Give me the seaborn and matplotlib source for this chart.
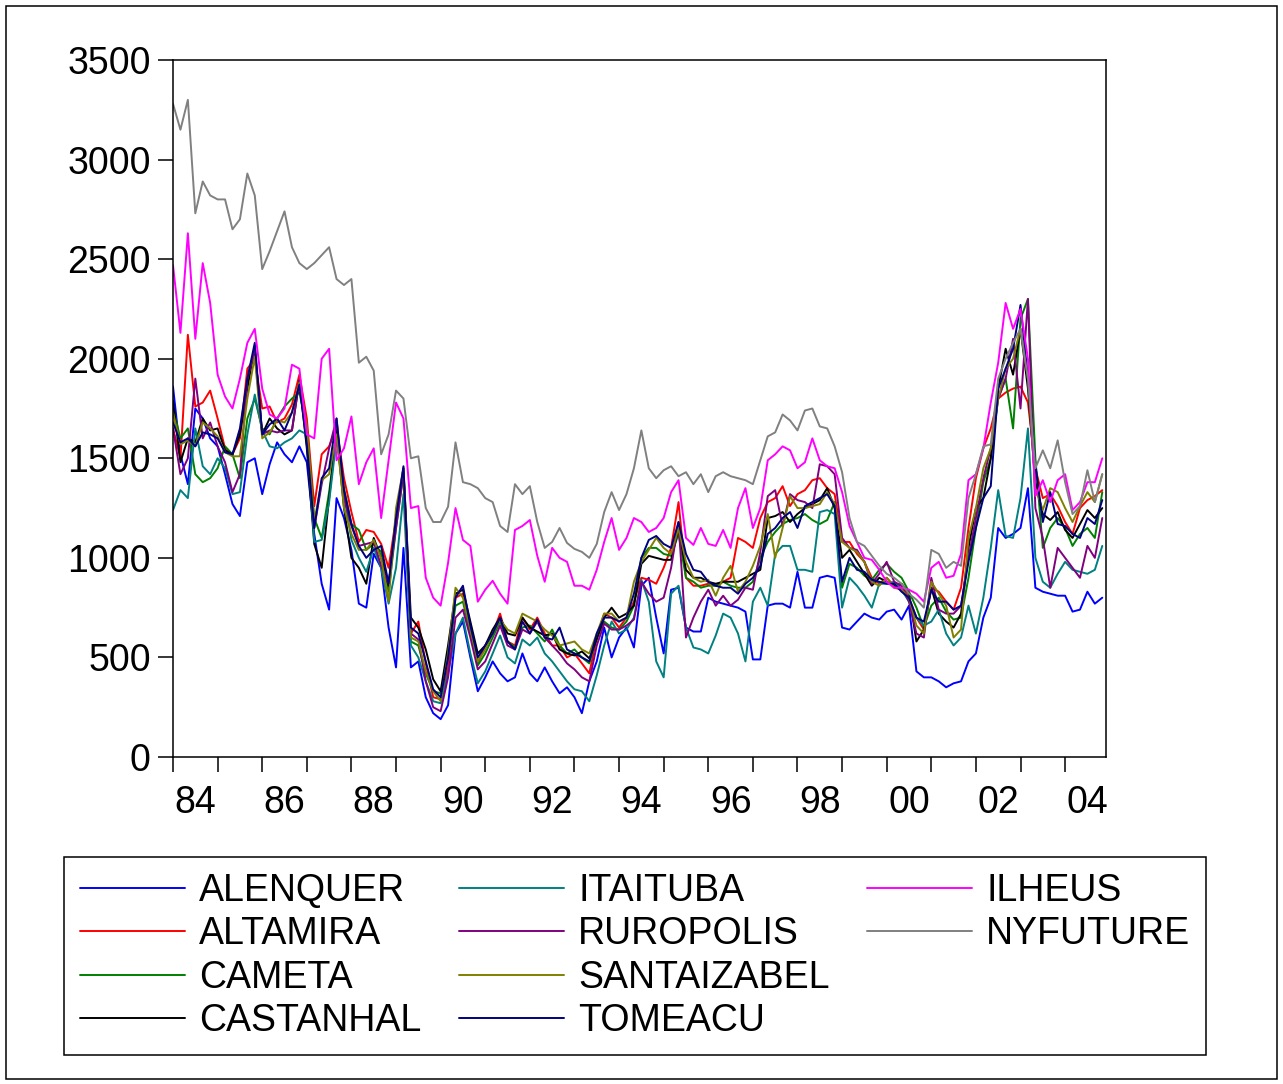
import numpy as np
import pandas as pd
import matplotlib.pyplot as plt
import seaborn as sns
from matplotlib.patches import Rectangle
from matplotlib.lines import Line2D

# Bimonthly readings (Jan 1984 ... Nov 2004), one row per year
alenquer = [1860, 1520, 1370, 1750, 1700, 1600,
            1560, 1420, 1270, 1210, 1480, 1500,
            1320, 1470, 1580, 1520, 1480, 1560,
            1480, 1120, 870, 740, 1300, 1200,
            1040, 770, 750, 1020, 950, 650,
            450, 1050, 450, 480, 300, 220,
            190, 260, 620, 680, 500, 330,
            400, 480, 420, 380, 400, 520,
            420, 380, 450, 380, 320, 350,
            300, 220, 380, 480, 650, 500,
            600, 650, 550, 860, 900, 700,
            520, 840, 850, 650, 630, 630,
            800, 780, 770, 760, 750, 730,
            490, 490, 760, 770, 770, 750,
            930, 750, 750, 900, 910, 900,
            650, 640, 680, 720, 700, 690,
            730, 740, 690, 760, 430, 400,
            400, 380, 350, 370, 380, 480,
            520, 700, 800, 1150, 1100, 1120,
            1150, 1350, 850, 830, 820, 810,
            810, 730, 740, 830, 770, 800]
altamira = [1650, 1500, 2120, 1760, 1780, 1840,
            1700, 1550, 1520, 1600, 1950, 2000,
            1750, 1760, 1680, 1700, 1770, 1920,
            1700, 1260, 1520, 1560, 1660, 1400,
            1230, 1080, 1140, 1130, 1070, 950,
            1200, 1430, 620, 680, 470, 300,
            290, 450, 800, 820, 640, 470,
            560, 620, 720, 580, 560, 700,
            640, 700, 620, 560, 560, 500,
            520, 470, 420, 600, 720, 700,
            650, 700, 780, 900, 890, 870,
            950, 1050, 1280, 900, 860, 860,
            870, 860, 880, 900, 1100, 1080,
            1050, 1200, 1280, 1300, 1360, 1260,
            1320, 1340, 1390, 1400, 1350, 1320,
            1080, 1080, 1020, 980, 900, 870,
            900, 860, 860, 800, 700, 640,
            850, 830, 780, 740, 850, 1150,
            1400, 1550, 1650, 1800, 1830, 1850,
            1860, 1780, 1450, 1300, 1320, 1260,
            1180, 1120, 1250, 1290, 1310, 1340]
cameta = [1750, 1600, 1650, 1420, 1380, 1400,
          1450, 1560, 1520, 1400, 1700, 1800,
          1650, 1620, 1700, 1760, 1800, 1830,
          1650, 1200, 1100, 1330, 1620, 1350,
          1170, 1140, 1040, 1070, 1030, 830,
          1150, 1420, 580, 560, 420, 330,
          320, 500, 760, 780, 620, 460,
          520, 600, 680, 580, 550, 650,
          660, 620, 580, 640, 560, 520,
          540, 500, 470, 600, 680, 650,
          640, 680, 760, 1000, 1050, 1050,
          1020, 1010, 1120, 900, 880, 850,
          860, 860, 880, 860, 850, 850,
          880, 1000, 1080, 1130, 1170, 1190,
          1200, 1220, 1190, 1170, 1190, 1280,
          850, 970, 950, 910, 890, 940,
          970, 930, 900, 830, 750, 650,
          760, 800, 730, 690, 700, 900,
          1150, 1380, 1500, 1800, 1900, 1650,
          2200, 2300, 1500, 1050, 1150, 1200,
          1150, 1060, 1120, 1150, 1100, 1330]
castanhal = [1790, 1480, 1600, 1580, 1700, 1640,
             1650, 1540, 1520, 1620, 1850, 2060,
             1620, 1700, 1650, 1620, 1640, 1890,
             1550, 1070, 950, 1300, 1640, 1250,
             1000, 950, 870, 1100, 1000, 860,
             1200, 1450, 700, 650, 540, 390,
             330, 560, 820, 840, 680, 520,
             560, 640, 700, 620, 610, 700,
             650, 630, 610, 620, 540, 520,
             510, 530, 495, 590, 700, 750,
             700, 720, 760, 970, 1010, 1000,
             990, 990, 1150, 940, 900, 900,
             880, 870, 880, 880, 880, 900,
             920, 940, 1200, 1210, 1230, 1180,
             1220, 1250, 1270, 1290, 1350, 1250,
             1000, 1040, 980, 920, 860, 900,
             880, 860, 870, 820, 580, 640,
             850, 720, 680, 650, 720, 1050,
             1250, 1300, 1500, 1850, 2050, 1920,
             2150, 1850, 1380, 1220, 1190, 1230,
             1140, 1100, 1170, 1240, 1200, 1250]
itaituba = [1240, 1340, 1300, 1650, 1460, 1420,
            1500, 1450, 1320, 1330, 1620, 1820,
            1640, 1560, 1550, 1580, 1600, 1640,
            1620, 1080, 1090, 1280, 1600, 1320,
            1090, 1000, 930, 1050, 950, 770,
            950, 1320, 560, 500, 380, 280,
            270, 420, 620, 700, 520, 370,
            430, 520, 610, 500, 470, 590,
            560, 600, 520, 480, 430, 380,
            340, 330, 280, 410, 560, 680,
            620, 640, 700, 890, 780, 480,
            400, 820, 860, 650, 550, 540,
            520, 610, 720, 700, 620, 480,
            780, 850, 760, 1020, 1060, 1060,
            940, 940, 930, 1230, 1240, 1220,
            750, 900, 860, 810, 750, 870,
            870, 880, 840, 780, 700, 660,
            680, 740, 620, 560, 600, 760,
            620, 800, 1050, 1340, 1110, 1100,
            1300, 1650, 1000, 880, 850, 920,
            980, 940, 930, 920, 940, 1060]
ruropolis = [1650, 1420, 1500, 1900, 1600, 1680,
             1560, 1480, 1330, 1420, 1900, 2040,
             1620, 1640, 1630, 1640, 1640, 1890,
             1620, 1150, 1370, 1550, 1700, 1300,
             1160, 1060, 1070, 1080, 960, 870,
             1150, 1430, 620, 590, 380, 250,
             230, 400, 700, 740, 600, 440,
             480, 570, 660, 560, 540, 640,
             620, 680, 600, 560, 520, 470,
             440, 400, 380, 560, 670, 640,
             640, 660, 690, 880, 820, 780,
             800, 950, 1180, 600, 700, 780,
             840, 760, 810, 760, 790, 850,
             840, 1030, 1310, 1340, 1160, 1320,
             1290, 1280, 1250, 1470, 1460, 1420,
             1100, 1050, 1040, 980, 870, 920,
             980, 880, 860, 780, 620, 600,
             900, 740, 720, 720, 760, 1000,
             1200, 1400, 1550, 1800, 1900, 2100,
             1750, 2300, 1250, 1100, 850, 1050,
             1000, 950, 900, 1060, 1000, 1200]
santaizabel = [1730, 1570, 1590, 1560, 1680, 1650,
               1610, 1530, 1510, 1510, 1800, 2010,
               1600, 1630, 1690, 1680, 1730, 1880,
               1660, 1180, 1390, 1420, 1620, 1250,
               1120, 1040, 1040, 1090, 1000, 780,
               1250, 1450, 600, 580, 430, 330,
               280, 520, 850, 800, 640, 480,
               540, 620, 690, 640, 620, 720,
               700, 680, 640, 610, 560, 570,
               580, 540, 520, 620, 720, 720,
               680, 700, 880, 980, 1040, 1100,
               1050, 1020, 1150, 980, 900, 880,
               890, 810, 900, 960, 830, 880,
               960, 1060, 1220, 1000, 1150, 1310,
               1250, 1250, 1260, 1270, 1330, 1270,
               1080, 1050, 1030, 980, 880, 860,
               900, 850, 840, 800, 660, 620,
               880, 820, 760, 600, 640, 1100,
               1250, 1450, 1550, 1800, 1950, 2000,
               2150, 1900, 1350, 1240, 1350, 1330,
               1250, 1180, 1260, 1330, 1280, 1420]
tomeacu = [1680, 1580, 1600, 1560, 1630, 1620,
           1600, 1530, 1520, 1650, 1900, 2080,
           1620, 1670, 1700, 1640, 1730, 1870,
           1570, 1150, 1400, 1450, 1700, 1340,
           1170, 1060, 1000, 1040, 1060, 870,
           1200, 1460, 650, 620, 480, 340,
           300, 500, 800, 860, 660, 500,
           560, 620, 700, 580, 540, 680,
           620, 690, 600, 590, 650, 540,
           520, 500, 480, 620, 700, 700,
           680, 700, 820, 1000, 1090, 1110,
           1070, 1050, 1180, 1020, 940, 930,
           880, 860, 850, 850, 820, 870,
           900, 960, 1120, 1150, 1200, 1230,
           1150, 1260, 1280, 1300, 1320, 1260,
           880, 1000, 940, 930, 890, 880,
           870, 870, 830, 800, 700, 680,
           840, 780, 780, 740, 760, 980,
           1150, 1300, 1360, 1850, 1950, 2050,
           2270, 1900, 1470, 1180, 1330, 1170,
           1160, 1120, 1100, 1200, 1170, 1290]
ilheus = [2470, 2130, 2630, 2100, 2480, 2280,
          1920, 1810, 1750, 1900, 2080, 2150,
          1850, 1720, 1700, 1750, 1970, 1950,
          1620, 1600, 2000, 2050, 1490, 1550,
          1710, 1370, 1480, 1550, 1200, 1490,
          1780, 1700, 1250, 1260, 900, 800,
          760, 975, 1250, 1090, 1060, 780,
          840, 885, 820, 770, 1140, 1160,
          1190, 1010, 880, 1050, 1000, 980,
          860, 860, 840, 940, 1080, 1200,
          1040, 1100, 1200, 1180, 1130, 1150,
          1200, 1330, 1390, 1100, 1065, 1150,
          1070, 1060, 1140, 1050, 1250, 1350,
          1150, 1250, 1490, 1520, 1560, 1540,
          1450, 1480, 1600, 1490, 1460, 1450,
          1330, 1160, 1080, 1000, 990, 940,
          880, 850, 850, 840, 820, 780,
          950, 980, 900, 910, 1020, 1390,
          1420, 1550, 1780, 1980, 2280, 2150,
          2250, 2000, 1310, 1390, 1280, 1390,
          1420, 1240, 1280, 1380, 1380, 1500]
nyfuture = [3280, 3150, 3300, 2730, 2890, 2820,
            2800, 2800, 2650, 2700, 2930, 2820,
            2450, 2540, 2640, 2740, 2560, 2480,
            2450, 2480, 2520, 2560, 2400, 2370,
            2400, 1980, 2010, 1940, 1520, 1620,
            1840, 1800, 1500, 1510, 1250, 1180,
            1180, 1257, 1580, 1380, 1370, 1350,
            1300, 1280, 1160, 1130, 1370, 1320,
            1360, 1180, 1050, 1080, 1150, 1075,
            1045, 1030, 1000, 1070, 1230, 1330,
            1240, 1320, 1450, 1640, 1450, 1400,
            1440, 1460, 1410, 1430, 1370, 1420,
            1330, 1410, 1430, 1410, 1400, 1390,
            1370, 1490, 1610, 1630, 1720, 1690,
            1640, 1740, 1750, 1660, 1650, 1560,
            1430, 1200, 1080, 1060, 1010, 960,
            920, 900, 870, 820, 790, 750,
            1040, 1020, 950, 980, 960, 1300,
            1420, 1560, 1570, 1900, 2000, 2080,
            2150, 1900, 1450, 1540, 1450, 1590,
            1380, 1220, 1260, 1440, 1280, 1420]

names = ["ALENQUER", "ALTAMIRA", "CAMETA", "CASTANHAL", "ITAITUBA",
         "RUROPOLIS", "SANTAIZABEL", "TOMEACU", "ILHEUS", "NYFUTURE"]
series = [alenquer, altamira, cameta, castanhal, itaituba,
          ruropolis, santaizabel, tomeacu, ilheus, nyfuture]
colors = ["#0000FF", "#FF0000", "#008000", "#000000", "#008080",
          "#800080", "#808000", "#000080", "#FF00FF", "#808080"]
year_labels = ["84", "86", "88", "90", "92", "94", "96", "98", "00", "02", "04"]

sns.set_style("ticks")
plt.rcParams['font.family'] = ['Liberation Sans', 'DejaVu Sans']
for key in ["text.color", "axes.edgecolor", "xtick.color", "ytick.color",
            "axes.labelcolor"]:
    plt.rcParams[key] = "black"

W, H = 1283, 1084
fig = plt.figure(figsize=(W / 100, H / 100), dpi=100)
fig.patches.append(Rectangle((6 / W, 1 - 1079 / H), (1277 - 6) / W, (1079 - 6) / H,
                             transform=fig.transFigure, fill=False, ec="black", lw=1.1))
ax = fig.add_axes([173 / W, 1 - 757 / H, (1106 - 173) / W, (757 - 60) / H])

# long table for seaborn
t = 1984 + np.arange(len(alenquer)) / 6
df = pd.concat([pd.DataFrame({"date": t, "price": s, "series": n})
                for n, s in zip(names, series)], ignore_index=True)

sns.lineplot(data=df, x="date", y="price", hue="series", hue_order=names,
             palette=colors, estimator=None, sort=False, lw=1.4,
             legend=False, ax=ax)

ax.set_xlim(1984, 2004 + 11 / 12)
ax.set_ylim(0, 3500)
ax.set_yticks(range(0, 3501, 500))
ax.set_xticks(np.arange(1984, 2005))
ax.set_xticklabels([])
ax.set_xticks(np.arange(1984.5, 2005, 2), minor=True)
ax.set_xticklabels(year_labels, minor=True)
ax.tick_params(which="major", direction="out", length=11, width=1.1,
               labelsize=27, colors="black")
ax.tick_params(axis="y", pad=5)
ax.tick_params(axis="x", which="minor", length=0, pad=20, labelsize=27)
ax.set_xlabel("")
ax.set_ylabel("")
for sp in ax.spines.values():
    sp.set_visible(True)
    sp.set_linewidth(1.1)
    sp.set_color("black")

# legend in three columns, last column has two entries
handles = list(ax.get_lines()[:len(names)])
labels = list(names)
handles += [Line2D([], [], color="none"), Line2D([], [], color="none")]
labels += ["", ""]
leg = fig.legend(handles, labels, ncol=3, loc="upper left",
                 bbox_to_anchor=(64 / W, 1 - 857 / H), borderaxespad=0,
                 fontsize=27, handlelength=2.8, handletextpad=0.38,
                 columnspacing=1.0, labelspacing=0.2, borderpad=0.42,
                 fancybox=False, framealpha=1, edgecolor="black")
leg.get_frame().set_linewidth(1.1)
for line in leg.get_lines():
    line.set_linewidth(1.4)

fig.savefig("out.png", dpi=100)
